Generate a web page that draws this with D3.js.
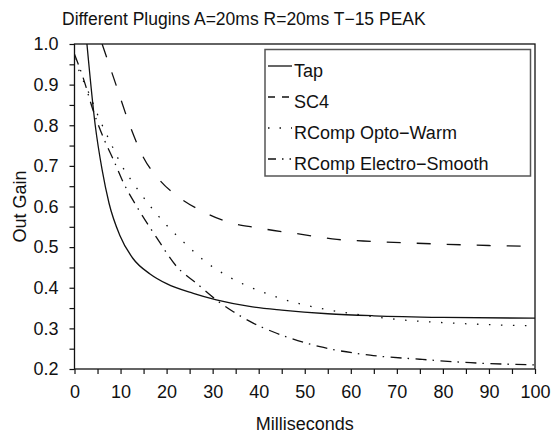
<!DOCTYPE html>
<html>
<head>
<meta charset="utf-8">
<script src="https://cdn.jsdelivr.net/npm/d3@7"></script>
<style>
  body { margin: 0; background: #fff; }
  text { font-family: "Liberation Sans", Arial, sans-serif; fill: #111; }
</style>
</head>
<body>
<div id="chart"></div>
<script>
const width = 553,
height = 435;

// data
const tapMs = [2.7, 4.5, 6, 7.5, 9.8, 12.7, 16.4, 20, 25.8, 30.8, 38, 45, 55, 65, 80, 100]
const tapGain = [1.0, 0.8, 0.69, 0.608, 0.530, 0.472, 0.434, 0.410, 0.386, 0.370, 0.354, 0.345, 0.336, 0.331, 0.327, 0.325]

const sc4Ms = [6, 9, 12, 15, 18.5, 23, 28, 33, 40, 49, 57, 65, 78, 90, 100]
const sc4Gain = [1.0, 0.90, 0.80, 0.72, 0.665, 0.62, 0.587, 0.563, 0.547, 0.532, 0.519, 0.514, 0.508, 0.504, 0.502]

const optoMs = [0, 1.2, 3.1, 5.35, 7.7, 10.2, 13.3, 16.5, 20, 24, 28, 32.3, 37, 41.7, 44.4, 51.8, 59.8, 71, 82, 100]
const optoGain = [0.965, 0.928, 0.88, 0.817, 0.76, 0.702, 0.649, 0.600, 0.554, 0.509, 0.468, 0.435, 0.407, 0.386, 0.375, 0.353, 0.337, 0.321, 0.313, 0.306]

const electroMs = [0, 1.9, 4, 6.4, 8.5, 10.6, 13.1, 16.4, 17.8, 22.2, 26.5, 30.8, 34.5, 38.8, 43.9, 53.3, 64.2, 75, 86, 100]
const electroGain = [0.975, 0.916, 0.838, 0.766, 0.714, 0.659, 0.608, 0.548, 0.524, 0.452, 0.411, 0.370, 0.341, 0.313, 0.288, 0.255, 0.234, 0.224, 0.2155, 0.21]

const seriesNames = ["Tap", "SC4", "RComp Opto\u2212Warm", "RComp Electro\u2212Smooth"]
const xTicks = [0, 10, 20, 30, 40, 50, 60, 70, 80, 90, 100]
const yTicks = [0.2, 0.3, 0.4, 0.5, 0.6, 0.7, 0.8, 0.9, 1.0]

const series = [
  {name: seriesNames[0], ms: tapMs, gain: tapGain, dash: null, legendDash: null},
  {name: seriesNames[1], ms: sc4Ms, gain: sc4Gain, dash: "14,16", legendDash: "7,7"},
  {name: seriesNames[2], ms: optoMs, gain: optoGain, dash: "1.5,10.5", legendDash: "1.5,10"},
  {name: seriesNames[3], ms: electroMs, gain: electroGain, dash: "11,6,1.5,6.5", legendDash: "8,6,1.5,6,1.5,6"}
]

const plotLeft = 74.5, plotRight = 535, plotTop = 44, plotBottom = 369

const svg = d3.select("#chart")
            .append("svg")
            .attr("width", width)
            .attr("height", height)

const x = d3.scaleLinear().domain([0, 100]).range([plotLeft, plotRight])
const y = d3.scaleLinear().domain([0.2, 1.0]).range([plotBottom, plotTop])

svg.append("defs").append("clipPath")
  .attr("id", "plotclip")
  .append("rect")
  .attr("x", plotLeft).attr("y", plotTop)
  .attr("width", plotRight - plotLeft).attr("height", plotBottom - plotTop)

// title
svg.append("text")
  .attr("x", 62)
  .attr("y", 25)
  .style("font-size", "17.5px")
  .text("Different Plugins A=20ms R=20ms T\u221215 PEAK")

// axes
const xAxis = d3.axisBottom(x)
  .tickValues(d3.range(0, 101, 5))
  .tickSize(5)
  .tickFormat(d => xTicks.includes(d) ? d : "")

const yAxis = d3.axisLeft(y)
  .tickValues(d3.range(0.2, 1.0001, 0.05))
  .tickSize(5)
  .tickFormat(d => {
    const r = Math.round(d * 100) / 100
    return yTicks.some(t => Math.abs(t - r) < 1e-6) ? r.toFixed(1) : ""
  })

const gx = svg.append("g")
  .attr("transform", `translate(0,${plotBottom})`)
  .call(xAxis)
gx.select(".domain").remove()
gx.selectAll("line").attr("stroke", "#111").attr("stroke-width", 1.2)
gx.selectAll("text")
  .attr("y", 16)
  .style("font-size", "18px")
  .style("font-family", "Liberation Sans, Arial, sans-serif")
  .attr("fill", "#111")

const gy = svg.append("g")
  .attr("transform", `translate(${plotLeft},0)`)
  .call(yAxis)
gy.select(".domain").remove()
gy.selectAll("line").attr("stroke", "#111").attr("stroke-width", 1.2)
gy.selectAll("text")
  .attr("x", -16)
  .style("font-size", "18px")
  .style("font-family", "Liberation Sans, Arial, sans-serif")
  .attr("fill", "#111")

// frame
svg.append("rect")
  .attr("x", plotLeft).attr("y", plotTop)
  .attr("width", plotRight - plotLeft).attr("height", plotBottom - plotTop)
  .attr("fill", "none")
  .attr("stroke", "#111")
  .attr("stroke-width", 1.3)

// axis titles
svg.append("text")
  .attr("x", (plotLeft + plotRight) / 2)
  .attr("y", 430)
  .attr("text-anchor", "middle")
  .style("font-size", "18px")
  .text("Milliseconds")

svg.append("text")
  .attr("transform", `translate(26,${(plotTop + plotBottom) / 2}) rotate(-90)`)
  .attr("text-anchor", "middle")
  .style("font-size", "18px")
  .text("Out Gain")

// curves
const line = d3.line()
  .x(d => x(d[0]))
  .y(d => y(d[1]))
  .curve(d3.curveMonotoneX)

svg.append("g")
  .attr("clip-path", "url(#plotclip)")
  .selectAll("path")
  .data(series)
  .join("path")
  .attr("d", s => line(s.ms.map((m, i) => [m, s.gain[i]])))
  .attr("fill", "none")
  .attr("stroke", "#111")
  .attr("stroke-width", 1.3)
  .attr("stroke-dasharray", s => s.dash)

// legend
const lg = svg.append("g")
lg.append("rect")
  .attr("x", 265).attr("y", 49.5)
  .attr("width", 265.5).attr("height", 126.5)
  .attr("fill", "#fff")
  .attr("stroke", "#555")
  .attr("stroke-width", 1.5)

const rowY = [66, 97, 128, 159]
const items = lg.selectAll("g.item")
  .data(series)
  .join("g")
  .attr("class", "item")
  .attr("transform", (d, i) => `translate(0,${rowY[i]})`)

items.append("line")
  .attr("x1", 268).attr("x2", 292)
  .attr("stroke", "#111")
  .attr("stroke-width", 1.3)
  .attr("stroke-dasharray", d => d.legendDash)

items.append("text")
  .attr("x", 294)
  .attr("y", 10.5)
  .style("font-size", "18px")
  .text(d => d.name)
</script>
</body>
</html>
